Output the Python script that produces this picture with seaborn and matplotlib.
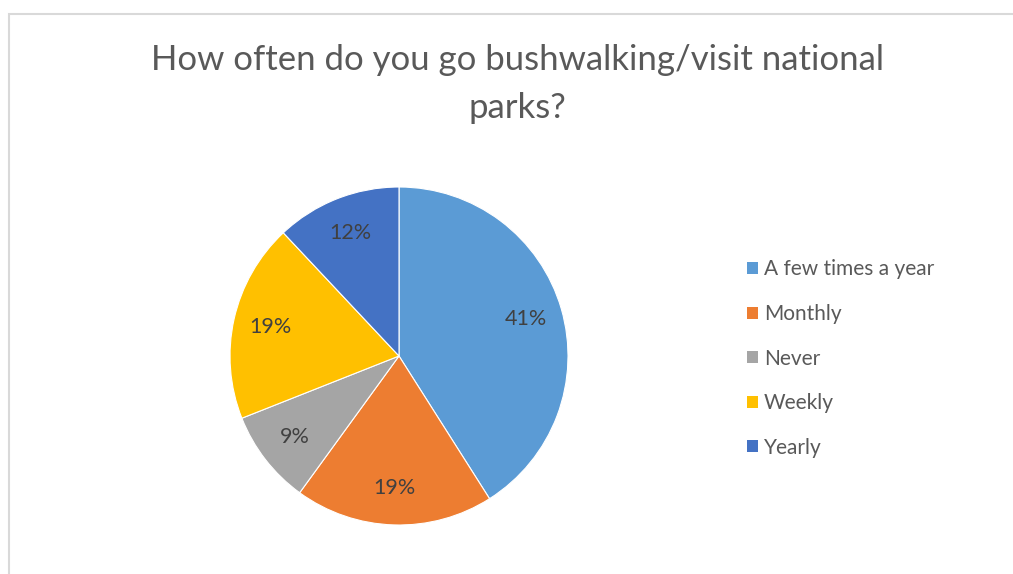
import matplotlib
matplotlib.use("Agg")
import matplotlib.pyplot as plt
import seaborn as sns
from matplotlib.patches import Patch, Rectangle

categories = ["A few times a year", "Monthly", "Never", "Weekly", "Yearly"]
percentages = [41, 19, 9, 19, 12]
colors = ["#5B9BD5", "#ED7D31", "#A5A5A5", "#FFC000", "#4472C4"]
title = "How often do you go bushwalking/visit national\nparks?"

sns.set_theme(style="white")
plt.rcParams["font.family"] = ["Lato", "DejaVu Sans"]

W, H = 1013, 574
fig = plt.figure(figsize=(W / 100, H / 100), dpi=100)
fig.patch.set_facecolor("white")

# chart border
fig.add_artist(Rectangle((9 / W, -0.05), 1.1, (H - 14) / H + 0.05, transform=fig.transFigure,
                         fill=False, edgecolor="#D9D9D9", linewidth=1.5))

cx, cy, r = 399, 356, 169
ax = fig.add_axes([(cx - r) / W, (H - cy - r) / H, 2 * r / W, 2 * r / H])
wedges, texts, autotexts = ax.pie(
    percentages, colors=colors, startangle=90, counterclock=False,
    autopct=lambda p: f"{p:.0f}%", pctdistance=0.78, radius=1,
    wedgeprops=dict(edgecolor="white", linewidth=0.8),
    textprops=dict(color="#404040", fontsize=15.5))
ax.set_xlim(-1, 1)
ax.set_ylim(-1, 1)
ax.axis("off")

fig.text(517 / W, 1 - 84 / H, title, ha="center", va="center", fontsize=25,
         color="#595959", linespacing=1.6)

handles = [Patch(facecolor=c, edgecolor="none") for c in colors]
fig.legend(handles, categories, loc="upper left", bbox_to_anchor=(737 / W, 1 - 249 / H),
           frameon=False, fontsize=15, labelcolor="#595959", handlelength=0.5,
           handleheight=0.5, handletextpad=0.3, labelspacing=1.18, borderpad=0)

fig.savefig("out.png", dpi=100)
